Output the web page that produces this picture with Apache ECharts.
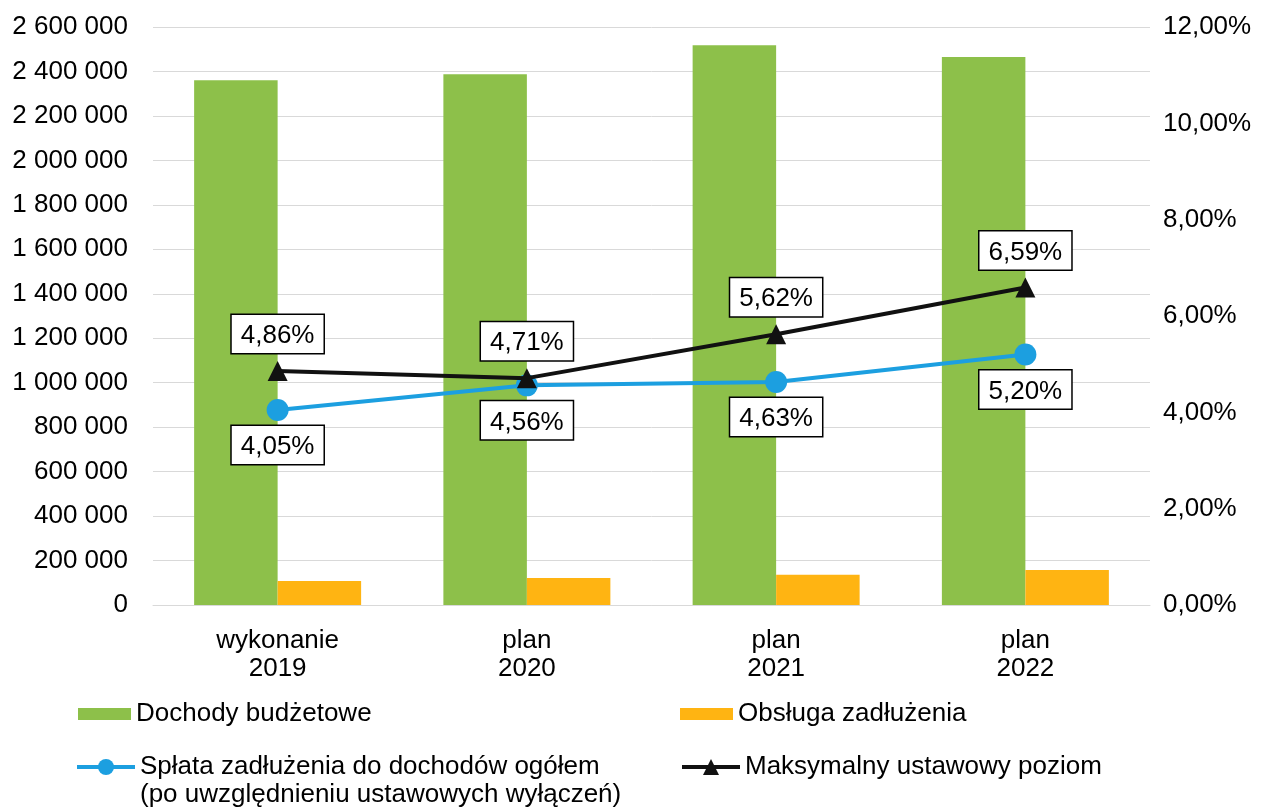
<!DOCTYPE html>
<html>
<head>
<meta charset="utf-8">
<script src="https://cdn.jsdelivr.net/npm/echarts@6/dist/echarts.min.js"></script>
<style>
  html, body { margin: 0; padding: 0; background: #fff; }
  #chart { width: 1268px; height: 809px; }
</style>
</head>
<body>
<div id="chart"></div>
<script>
// dane
var categories = ['wykonanie\n2019', 'plan\n2020', 'plan\n2021', 'plan\n2022'];
var dochody = [2360000, 2388000, 2518000, 2465000];
var obsluga = [108000, 122000, 136000, 157000];
var splata = [4.05, 4.56, 4.63, 5.20];
var maksymalny = [4.86, 4.71, 5.62, 6.59];

var names = [
  'Dochody budżetowe',
  'Obsługa zadłużenia',
  'Spłata zadłużenia do dochodów ogółem\n(po uwzględnieniu ustawowych wyłączeń)',
  'Maksymalny ustawowy poziom'
];

var font = 'Liberation Sans, Arial, sans-serif';

function fmtThousands(v) {
  return String(v).replace(/\B(?=(\d{3})+(?!\d))/g, ' ');
}
function fmtPct(v) {
  return Number(v).toFixed(2).replace('.', ',') + '%';
}

var boxLabel = function (pos, dist) {
  return {
    show: true,
    position: pos,
    distance: dist,
    color: '#000',
    fontFamily: font,
    fontSize: 26,
    backgroundColor: '#fff',
    borderColor: '#000',
    borderWidth: 1.5,
    padding: [8, 9, 4, 9],
    formatter: function (p) { return fmtPct(p.value); }
  };
};

var legendText = { color: '#000', fontFamily: font, fontSize: 26 };

var chart = echarts.init(document.getElementById('chart'));
var option = {
  backgroundColor: '#fff',
  animation: false,
  grid: { left: 153, right: 118, top: 27, bottom: 204 },
  legend: [
    {
      left: 73, top: 696, itemWidth: 53, itemHeight: 12, itemGap: 0, icon: 'rect',
      data: [names[0]], textStyle: legendText, selectedMode: false
    },
    {
      left: 675, top: 696, itemWidth: 53, itemHeight: 12, itemGap: 0, icon: 'rect',
      data: [names[1]], textStyle: legendText, selectedMode: false
    },
    {
      left: 70, top: 720, itemWidth: 58, itemHeight: 20, itemGap: 0,
      data: [names[2]], selectedMode: false,
      lineStyle: { width: 4 },
      formatter: function (n) { return '\n' + n; },
      textStyle: { color: '#000', fontFamily: font, fontSize: 26, lineHeight: 28 }
    },
    {
      left: 675, top: 749, itemWidth: 58, itemHeight: 20, itemGap: 0,
      data: [names[3]], textStyle: legendText, selectedMode: false,
      lineStyle: { width: 4 }
    }
  ],
  xAxis: {
    type: 'category',
    data: categories,
    axisLine: { lineStyle: { color: '#d9d9d9', width: 1 } },
    axisTick: { show: false },
    axisLabel: { color: '#000', fontFamily: font, fontSize: 26, lineHeight: 28, margin: 22 }
  },
  yAxis: [
    {
      type: 'value', min: 0, max: 2600000, interval: 200000,
      axisLine: { show: false }, axisTick: { show: false },
      splitLine: { lineStyle: { color: '#d9d9d9', width: 1 } },
      axisLabel: { color: '#000', fontFamily: font, fontSize: 26, margin: 25, formatter: fmtThousands }
    },
    {
      type: 'value', min: 0, max: 12, interval: 2,
      axisLine: { show: false }, axisTick: { show: false },
      splitLine: { show: false },
      axisLabel: { color: '#000', fontFamily: font, fontSize: 26, margin: 13, formatter: fmtPct }
    }
  ],
  series: [
    {
      name: names[0], type: 'bar', data: dochody,
      barGap: '0%', barCategoryGap: '33%',
      itemStyle: { color: '#8dc04a' }
    },
    {
      name: names[1], type: 'bar', data: obsluga,
      itemStyle: { color: '#ffb412' }
    },
    {
      name: names[2], type: 'line', yAxisIndex: 1, data: splata,
      symbol: 'circle', symbolSize: 22,
      lineStyle: { color: '#1c9fe0', width: 4 },
      itemStyle: { color: '#1c9fe0' },
      label: boxLabel('bottom', 5),
      z: 3
    },
    {
      name: names[3], type: 'line', yAxisIndex: 1, data: maksymalny,
      symbol: 'triangle', symbolSize: 20,
      lineStyle: { color: '#111', width: 4 },
      itemStyle: { color: '#111' },
      label: boxLabel('top', 8),
      z: 4
    }
  ]
};
chart.setOption(option);
</script>
</body>
</html>
